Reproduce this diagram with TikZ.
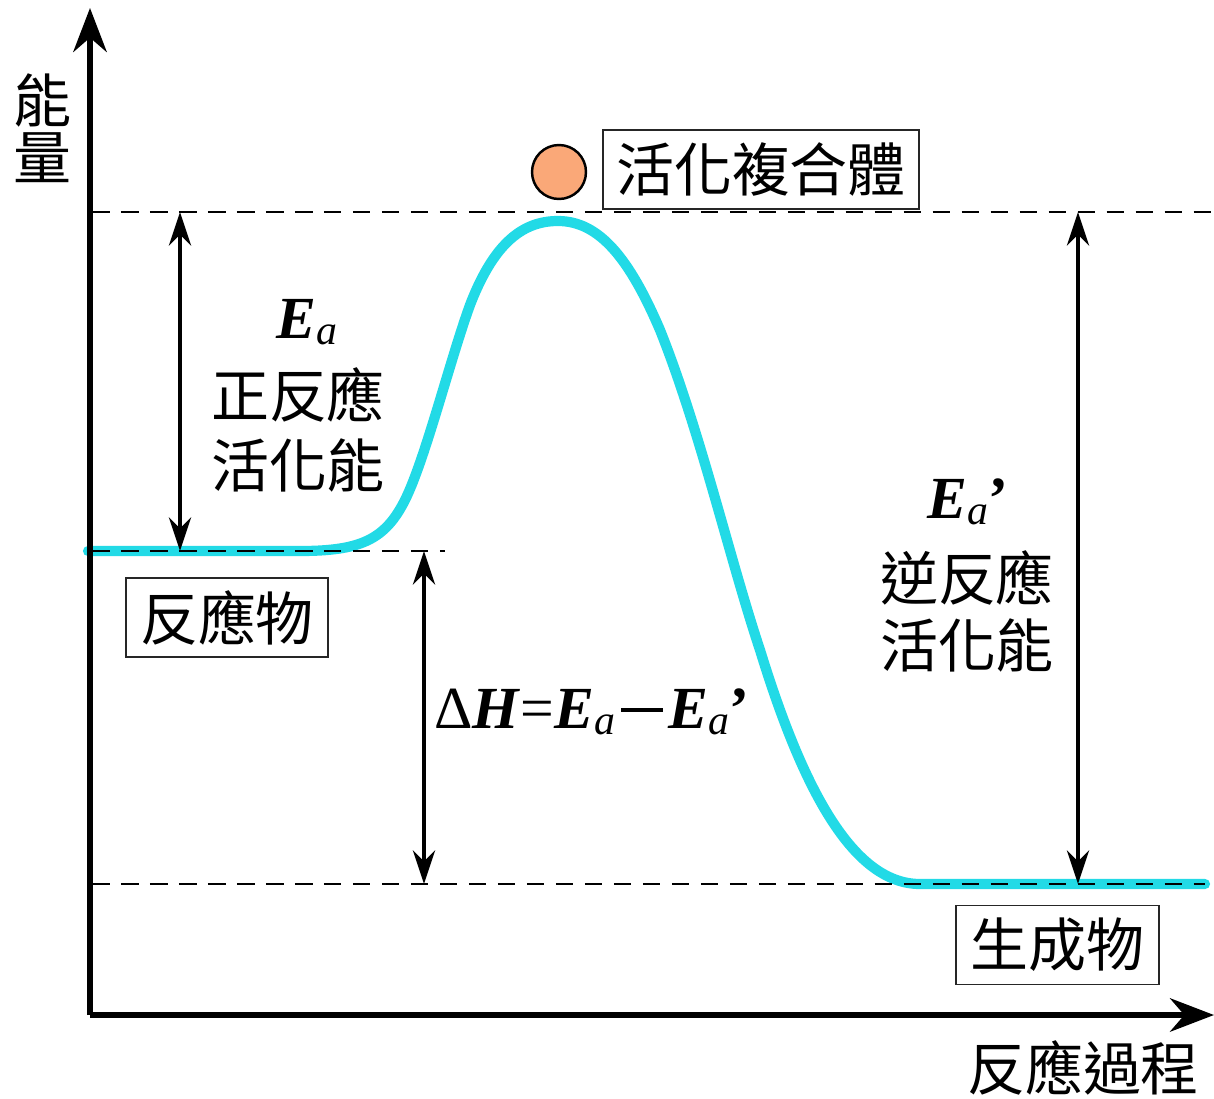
\documentclass[tikz,border=0pt]{standalone}
\usepackage{fontspec}
\setmainfont{Liberation Serif}
\newfontfamily\cjk{Noto Sans CJK TC}
\usetikzlibrary{arrows.meta}
\definecolor{curvecyan}{RGB}{34,218,230}
\definecolor{ballorange}{RGB}{250,168,120}
\newcommand{\Ea}{\textbf{\textit{E}}\textsubscript{\textit{a}}}
\newcommand{\longminus}{\kern3pt\rule[0.28em]{0.7em}{0.055em}\kern3pt}
\begin{document}
\begin{tikzpicture}[x=0.02cm,y=-0.02cm,
  axis/.style={line width=3.4pt,-{Stealth[length=25pt,width=19pt]}},
  dbl/.style={line width=2.8pt,{Stealth[length=19pt,width=12.5pt]}-{Stealth[length=19pt,width=12.5pt]}},
  guide/.style={line width=1.4pt,dash pattern=on 10pt off 6.5pt},
  cjkt/.style={font=\cjk\fontsize{33}{40}\selectfont,inner sep=0pt},
  mathl/.style={font=\fontsize{34}{40}\selectfont,inner sep=0pt},
  labbox/.style={draw=black!85,line width=0.8pt,inner sep=0pt,minimum height=1.58cm,font=\cjk\fontsize{33}{40}\selectfont}]
\useasboundingbox (0,0) rectangle (1214,1099);
% axes
\coordinate (O) at (90,1015);
\coordinate (ytop) at (90,8);
\coordinate (xend) at (1214,1015);
% energy curve
\draw[curvecyan,line width=5.8pt,line cap=round,line join=round]
  (88,551) -- (300,551)
  .. controls (360,551) and (385,540) .. (405,500)
  .. controls (425,460) and (450,360) .. (470,305)
  .. controls (495,240) and (525,221) .. (558,221)
  .. controls (600,221) and (630,260) .. (660,330)
  .. controls (700,430) and (730,560) .. (760,650)
  .. controls (800,780) and (850,884) .. (920,884)
  -- (1205,884);
% guide lines
\coordinate (gtopL) at (92,212);
\coordinate (gtopR) at (1214,212);
\coordinate (greL) at (92,551);
\coordinate (greR) at (445,551);
\coordinate (gprL) at (92,884);
\coordinate (gprR) at (1205,884);
\draw[guide] (gtopL) -- (gtopR);
\draw[guide] (greL) -- (greR);
\draw[guide] (gprL) -- (gprR);
\draw[axis] (O) -- (ytop);
\draw[axis] (O) -- (xend);
% double arrows
\coordinate (eaT) at (180,212);
\coordinate (eaB) at (180,551);
\coordinate (dhT) at (424,551);
\coordinate (dhB) at (424,884);
\coordinate (erT) at (1078,212);
\coordinate (erB) at (1078,884);
\draw[dbl] (eaT) -- (eaB);
\draw[dbl] (dhT) -- (dhB);
\draw[dbl] (erT) -- (erB);
% ball
\node[circle,draw=black,line width=1.4pt,fill=ballorange,minimum size=1.08cm,inner sep=0pt] (ball) at (559,172) {};
% boxes
\node[labbox,minimum width=6.32cm] (ts) at (761,169.5) {活化複合體};
\node[labbox,minimum width=4.04cm] (react) at (227,617.5) {反應物};
\node[labbox,minimum width=4.06cm] (prod) at (1057.5,945) {生成物};
% axis labels
\node[cjkt] (yl1) at (42,100) {能};
\node[cjkt] (yl2) at (42,158) {量};
\node[cjkt] (xl) at (1083,1068) {反應過程};
% Ea labels
\node[mathl] (ea) at (307,322) {\Ea};
\node[cjkt] (ea1) at (298,395) {正反應};
\node[cjkt] (ea2) at (298,465) {活化能};
\node[mathl] (er) at (968,502) {\Ea\textbf{’}};
\node[cjkt] (er1) at (967,578) {逆反應};
\node[cjkt] (er2) at (967,645) {活化能};
\node[mathl] (dh) at (592,712) {Δ\textbf{\textit{H}}=\Ea\longminus\Ea\textbf{’}};
\end{tikzpicture}
\end{document}
